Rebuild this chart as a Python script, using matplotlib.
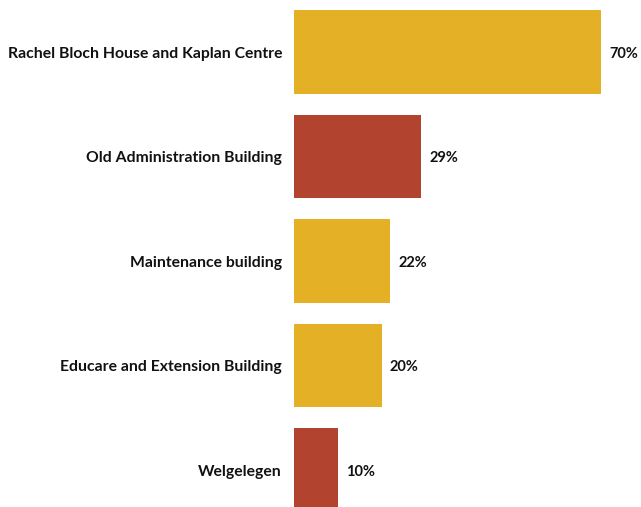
import matplotlib
matplotlib.use("Agg")
import matplotlib.pyplot as plt

categories = ["Rachel Bloch House and Kaplan Centre", "Old Administration Building",
              "Maintenance building", "Educare and Extension Building", "Welgelegen"]
values = [70, 29, 22, 20, 10]
value_labels = ["70%", "29%", "22%", "20%", "10%"]
colors = ["#E3B026", "#B2432F", "#E3B026", "#E3B026", "#B2432F"]

W, H, DPI = 641, 507, 100
fig = plt.figure(figsize=(W / DPI, H / DPI), dpi=DPI)
ax = fig.add_axes([294 / W, 0, (W - 294) / W, 1])
ypos = list(range(len(categories)))
ax.barh(ypos, values, height=0.8, color=colors)
ax.set_xlim(0, (W - 294) / (307 / 70))
ax.set_ylim(4.354, -0.5)
ax.axis("off")

for y, cat in zip(ypos, categories):
    ax.annotate(cat, xy=(0, y), xytext=(-12, -1.5), textcoords="offset pixels",
                ha="right", va="center", fontsize=11.3, fontweight="bold",
                family="Lato", color="#111111", annotation_clip=False)
for y, v, lab in zip(ypos, values, value_labels):
    ax.annotate(lab, xy=(v, y), xytext=(8, -1.5), textcoords="offset pixels",
                ha="left", va="center", fontsize=10.5, fontweight="bold",
                family="Lato", color="#111111", annotation_clip=False)

fig.savefig("out.png", dpi=DPI, facecolor="white")
